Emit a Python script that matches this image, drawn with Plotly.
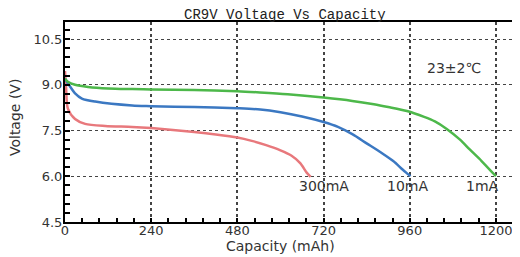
import plotly.graph_objects as go

# Capacity (mAh) and voltage (V) for each discharge current
cap_1ma = [0, 8, 28, 64, 120, 187, 240, 360, 480, 543, 620, 720, 800, 860, 900, 952, 1000, 1030, 1062, 1100, 1127, 1160, 1200]
v_1ma = [9.2, 9.1, 9.0, 8.93, 8.88, 8.86, 8.85, 8.83, 8.79, 8.75, 8.69, 8.58, 8.47, 8.36, 8.27, 8.14, 7.95, 7.8, 7.56, 7.2, 6.88, 6.5, 6.0]

cap_10ma = [0, 8, 28, 47, 84, 187, 240, 360, 480, 544, 600, 660, 720, 760, 800, 840, 880, 914, 940, 955, 962]
v_10ma = [9.2, 9.05, 8.72, 8.55, 8.45, 8.32, 8.3, 8.27, 8.23, 8.19, 8.1, 7.96, 7.78, 7.62, 7.38, 7.08, 6.78, 6.5, 6.22, 6.07, 6.0]

cap_300ma = [0, 3, 8, 28, 56, 112, 187, 240, 360, 420, 480, 520, 560, 600, 630, 655, 673, 684]
v_300ma = [9.45, 8.9, 8.22, 7.88, 7.72, 7.65, 7.62, 7.58, 7.45, 7.37, 7.27, 7.16, 7.02, 6.85, 6.68, 6.43, 6.12, 5.98]

x_ticks = [0, 240, 480, 720, 960, 1200]
y_ticks = [4.5, 6.0, 7.5, 9.0, 10.5]
y_tick_text = ["4.5", "6.0", "7.5", "9.0", "10.5"]

labels = ["300mA", "10mA", "1mA"]
label_x = [721, 955, 1163]
label_y = [5.68, 5.68, 5.68]

fig = go.Figure()
fig.add_trace(go.Scatter(x=cap_300ma, y=v_300ma, mode="lines",
                         line=dict(color="#E8787C", width=2.5, shape="spline", smoothing=0.8)))
fig.add_trace(go.Scatter(x=cap_10ma, y=v_10ma, mode="lines",
                         line=dict(color="#3B78C2", width=2.5, shape="spline", smoothing=0.8)))
fig.add_trace(go.Scatter(x=cap_1ma, y=v_1ma, mode="lines",
                         line=dict(color="#4DB84A", width=2.5, shape="spline", smoothing=0.8)))

annotations = []
for t, xx, yy in zip(labels, label_x, label_y):
    annotations.append(dict(x=xx, y=yy, xref="x", yref="y", text=t, showarrow=False,
                            font=dict(family="DejaVu Sans", size=14, color="#333333"),
                            xanchor="center", yanchor="middle"))
annotations.append(dict(x=1083, y=9.55, xref="x", yref="y", text="23±2℃", showarrow=False,
                        font=dict(family="DejaVu Sans", size=14, color="#333333"),
                        xanchor="center", yanchor="middle"))
annotations.append(dict(x=612, y=1.035, xref="x", yref="paper", text="CR9V Voltage Vs Capacity",
                        showarrow=False, font=dict(family="Liberation Mono", size=14, color="#222222"),
                        xanchor="center", yanchor="middle"))
annotations.append(dict(x=600, y=-0.12, xref="x", yref="paper", text="Capacity (mAh)",
                        showarrow=False, font=dict(family="DejaVu Sans", size=14, color="#333333"),
                        xanchor="center", yanchor="middle"))
annotations.append(dict(x=-0.11, y=7.94, xref="paper", yref="y", text="Voltage (V)", textangle=-90,
                        showarrow=False, font=dict(family="DejaVu Sans", size=14, color="#333333"),
                        xanchor="center", yanchor="middle"))

fig.update_layout(
    width=512, height=249,
    margin=dict(l=57, r=0, t=14, b=35, autoexpand=False),
    paper_bgcolor="white", plot_bgcolor="white",
    showlegend=False,
    annotations=annotations,
    xaxis=dict(range=[0, 1267], tickvals=x_ticks, ticks="inside", ticklen=4, tickcolor="black",
               tickwidth=1.5, showline=True, linewidth=2, linecolor="black", mirror=True,
               automargin=False, ticklabelstandoff=-5,
               showgrid=True, gridcolor="#444444", griddash="dot", gridwidth=1.5, zeroline=False,
               tickfont=dict(family="DejaVu Sans", size=13, color="#333333"),
               minor=dict(dtick=48, ticks="inside", ticklen=4, tickcolor="black", tickwidth=1.5, showgrid=False)),
    yaxis=dict(range=[4.5, 11.06], tickvals=y_ticks, ticktext=y_tick_text, ticks="inside", ticklen=5,
               tickcolor="black", tickwidth=1.5, showline=True, linewidth=2, linecolor="black",
               automargin=False, ticklabelstandoff=-2,
               showgrid=True, gridcolor="#444444", griddash="dot", gridwidth=1, zeroline=False,
               tickfont=dict(family="DejaVu Sans", size=13, color="#333333"),
               minor=dict(dtick=0.3, tick0=4.5, ticks="inside", ticklen=5, tickcolor="black", tickwidth=1.5, showgrid=False)),
)

fig.write_html("out.html")
